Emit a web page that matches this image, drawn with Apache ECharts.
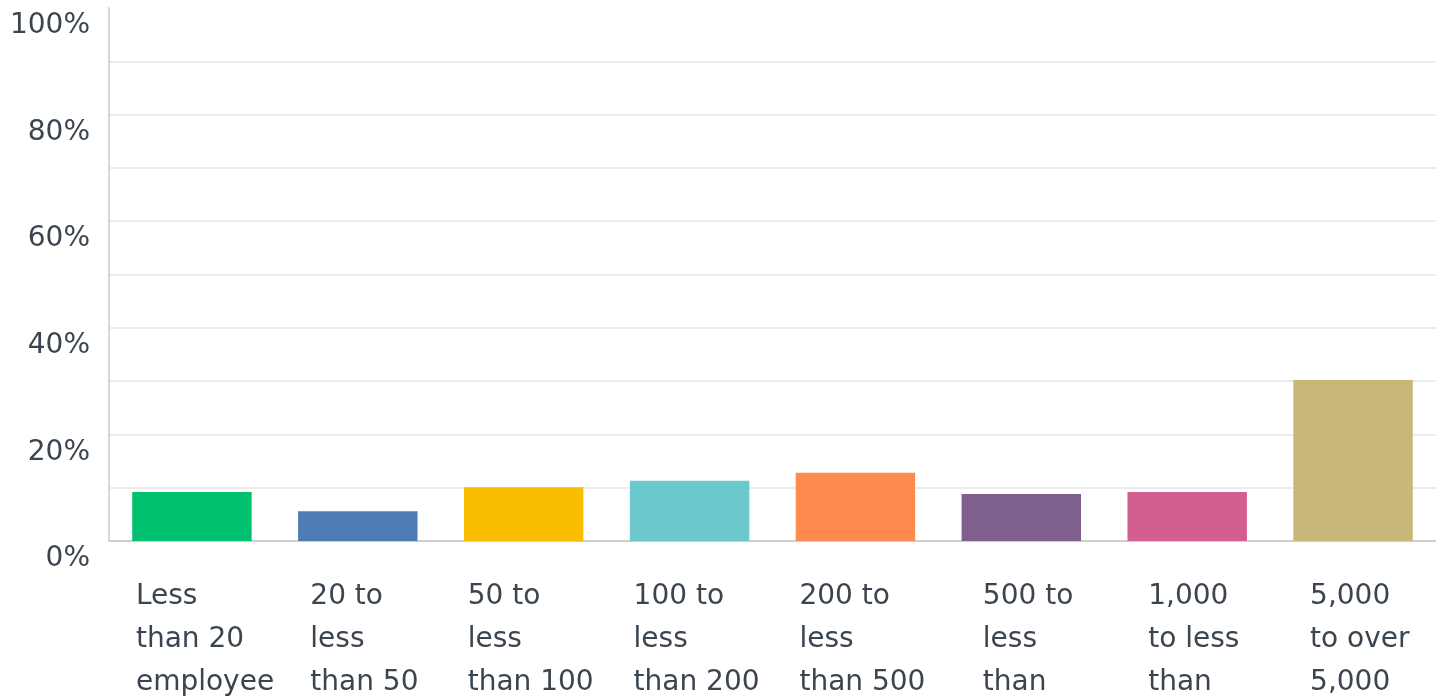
<!DOCTYPE html>
<html lang="en">
<head>
  <meta charset="utf-8">
  <title>Company size</title>
  <script src="https://cdn.jsdelivr.net/npm/echarts@6/dist/echarts.min.js"></script>
  <style>
    * { margin: 0; padding: 0; }
    #chart { width: 1436px; height: 696px; }
  </style>
</head>
<body>
  <div id="chart"></div>
  <script>
    // category labels as wrapped in the reference (the rest runs off the bottom)
    var categories = [
      'Less\nthan 20\nemployee\ns',
      '20 to\nless\nthan 50',
      '50 to\nless\nthan 100',
      '100 to\nless\nthan 200',
      '200 to\nless\nthan 500',
      '500 to\nless\nthan',
      '1,000\nto less\nthan',
      '5,000\nto over\n5,000'
    ];
    var values = [9.2, 5.6, 10.1, 11.3, 12.8, 8.8, 9.2, 30.2];
    var colors = ['#00bf6f', '#507cb6', '#f9be00', '#6bc8cd', '#ff8b4f', '#7f5f8e', '#d25f90', '#c7b879'];
    var yTicks = [0, 20, 40, 60, 80, 100];

    var fontFamily = '"DejaVu Sans", sans-serif';
    var fontSize = 28;
    var textColor = '#3b4550';

    // width of each label block: widest line, capped like the original wrap box
    var ctx = document.createElement('canvas').getContext('2d');
    ctx.font = fontSize + 'px ' + fontFamily;
    var rich = {};
    categories.forEach(function (c, i) {
      var w = 0;
      c.split('\n').forEach(function (l) {
        w = Math.max(w, ctx.measureText(l).width);
      });
      rich['r' + i] = {
        width: Math.min(Math.ceil(w), 126),
        align: 'left',
        fontSize: fontSize,
        lineHeight: 43,
        color: textColor,
        fontFamily: fontFamily
      };
    });

    var chart = echarts.init(document.getElementById('chart'), null, { renderer: 'canvas' });

    var option = {
      animation: false,
      grid: { left: 109, right: 0, top: 8, bottom: 155, containLabel: false, outerBoundsMode: 'none' },
      xAxis: {
        type: 'category',
        data: categories,
        axisLine: { lineStyle: { color: '#cfcfcf', width: 2 } },
        axisTick: { show: false },
        axisLabel: {
          interval: 0,
          margin: 34,
          padding: [0, 0, 0, 14],
          formatter: function (v, idx) {
            return v.split('\n').map(function (l) {
              return '{r' + idx + '|' + l + '}';
            }).join('\n');
          },
          rich: rich
        }
      },
      yAxis: {
        type: 'value',
        min: 0,
        max: 100,
        interval: 10,
        axisLine: { show: true, lineStyle: { color: '#d6d6d6', width: 2 } },
        axisTick: { show: false },
        splitLine: {
          lineStyle: {
            color: ['#ececec', '#ececec', '#ececec', '#ececec', '#ececec', '#ececec',
                    '#ececec', '#ececec', '#ececec', '#ececec', 'transparent'],
            width: 2
          }
        },
        axisLabel: {
          margin: 19,
          verticalAlign: 'top',
          padding: [4, 0, 0, 0],
          color: textColor,
          fontSize: fontSize,
          fontFamily: fontFamily,
          formatter: function (v) {
            return yTicks.indexOf(v) >= 0 ? v + '%' : '';
          }
        }
      },
      series: [{
        type: 'bar',
        barCategoryGap: '28%',
        data: values.map(function (v, i) {
          return { value: v, itemStyle: { color: colors[i] } };
        })
      }]
    };

    chart.setOption(option);
    window.addEventListener('resize', chart.resize);
  </script>
</body>
</html>
